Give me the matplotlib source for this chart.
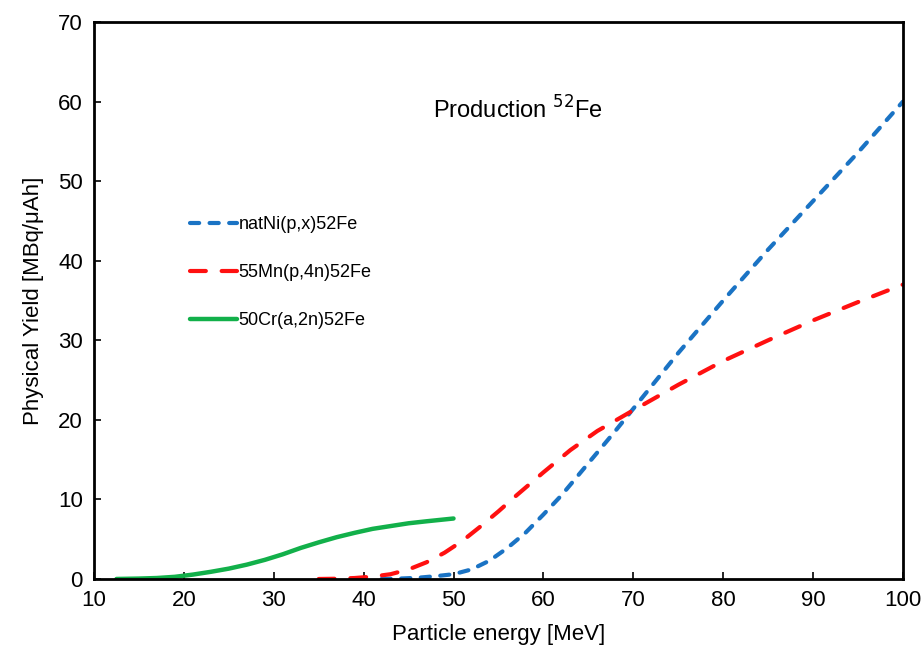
import numpy as np
import matplotlib.pyplot as plt

plt.rcParams['font.family'] = ['Liberation Sans', 'DejaVu Sans']

# natNi(p,x)52Fe
ni_e = [42, 44, 46, 48, 50, 52, 54, 56, 58, 60, 62, 64, 66, 68, 70, 75, 80, 85, 90, 95, 100]
ni_y = [0.0, 0.05, 0.15, 0.35, 0.6, 1.2, 2.3, 3.9, 5.8, 8.1, 10.5, 13.2, 15.9, 18.6, 21.4, 28.4, 35.0, 41.4, 47.5, 53.6, 60.0]

# 55Mn(p,4n)52Fe
mn_e = [35, 37, 39, 41, 43, 45, 47, 49, 51, 53, 55, 57, 60, 63, 66, 70, 75, 80, 85, 90, 95, 100]
mn_y = [0.0, 0.03, 0.12, 0.3, 0.6, 1.2, 2.1, 3.3, 4.8, 6.6, 8.5, 10.5, 13.4, 16.2, 18.6, 21.2, 24.4, 27.4, 30.0, 32.5, 34.8, 37.0]

# 50Cr(a,2n)52Fe
cr_e = [12.5, 15, 17, 19, 21, 23, 25, 27, 29, 31, 33, 35, 37, 39, 41, 43, 45, 47, 50]
cr_y = [0.0, 0.05, 0.12, 0.27, 0.55, 0.9, 1.3, 1.8, 2.4, 3.1, 3.9, 4.6, 5.25, 5.8, 6.3, 6.65, 7.0, 7.25, 7.6]

fig = plt.figure(figsize=(9.23, 6.49), dpi=100)
ax = fig.add_axes([0.1018, 0.1079, 0.8765, 0.8582])

ax.plot(ni_e, ni_y, color='#1a73c4', lw=3, ls=(0, (2.2, 2.5)),
        dash_capstyle='round', label='natNi(p,x)52Fe')
ax.plot(mn_e, mn_y, color='#ff1010', lw=3, ls=(0, (3.8, 3.8)),
        dash_capstyle='round', label='55Mn(p,4n)52Fe')
ax.plot(cr_e, cr_y, color='#12b04a', lw=3.2, solid_capstyle='round',
        label='50Cr(a,2n)52Fe')

ax.set_xlim(10, 100)
ax.set_ylim(0, 70)
ax.set_xticks(np.arange(10, 101, 10))
ax.set_yticks(np.arange(0, 71, 10))
ax.tick_params(direction='in', length=5, width=1.2, labelsize=16, pad=8)
for s in ax.spines.values():
    s.set_linewidth(2)

ax.set_xlabel('Particle energy [MeV]', fontsize=16, labelpad=9)
ax.set_ylabel('Physical Yield [MBq/\u03bcAh]', fontsize=16, labelpad=10)

ax.text(57.2, 59.0, 'Production $^{52}$Fe', fontsize=17, ha='center', va='center')

ax.legend(loc='upper left', bbox_to_anchor=(0.1187, 0.652), borderaxespad=0,
          borderpad=0, frameon=False, fontsize=13, handlelength=2.6,
          handletextpad=0.1, labelspacing=1.72)

fig.savefig('out.png', dpi=100)
